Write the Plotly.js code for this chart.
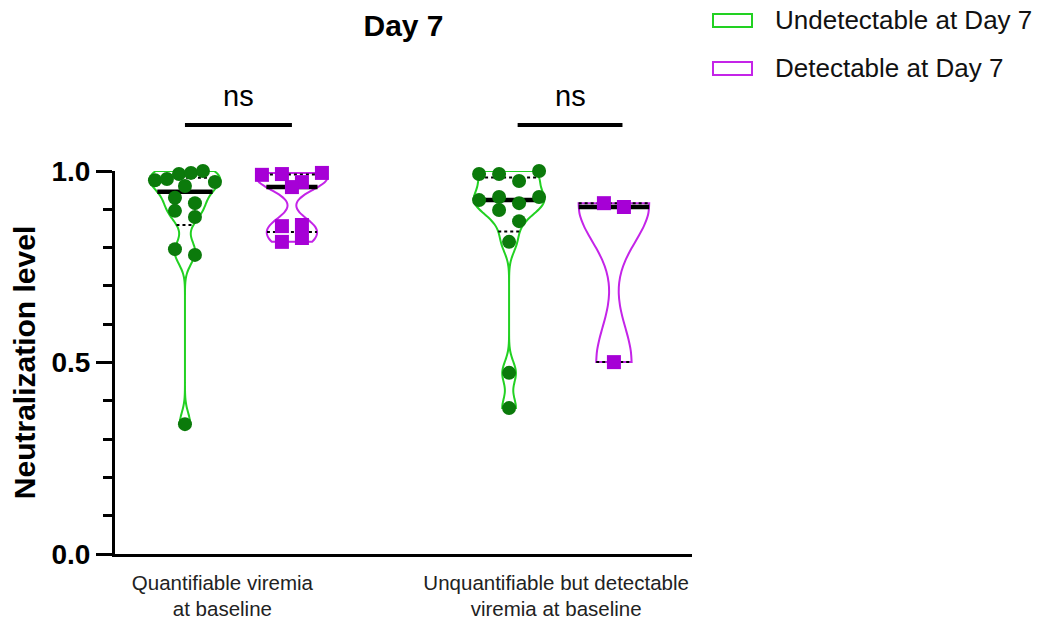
<!DOCTYPE html>
<html>
<head>
<meta charset="utf-8">
<script src="https://cdn.plot.ly/plotly-3.0.1.min.js"></script>
<style>html,body{margin:0;padding:0;background:#fff;}#chart{width:1047px;height:622px;}</style>
</head>
<body>
<div id="chart"></div>
<script>
// ---------------- DATA ----------------
const categories = ['Quantifiable viremia<br>at baseline', 'Unquantifiable but detectable<br>viremia at baseline'];
const seriesNames = ['Undetectable at Day 7', 'Detectable at Day 7'];
// Quantifiable viremia at baseline
const undetectable_quantifiable = [0.976, 0.979, 0.992, 0.995, 1.0, 0.971, 0.961, 0.930, 0.916, 0.896, 0.880, 0.796, 0.781, 0.339];
const detectable_quantifiable = [0.990, 0.992, 0.971, 0.995, 0.958, 0.856, 0.859, 0.815, 0.825];
// Unquantifiable but detectable viremia at baseline
const undetectable_unquantifiable = [0.992, 0.992, 0.974, 1.0, 0.924, 0.932, 0.916, 0.932, 0.898, 0.869, 0.815, 0.473, 0.381];
const detectable_unquantifiable = [0.916, 0.906, 0.501];
const yTickVals = [0, 0.5, 1.0];
const yTickText = ['0.0', '0.5', '1.0'];
const significance = ['ns', 'ns'];

// ---------------- LAYOUT CONSTANTS ----------------
const W = 1047, H = 622;
const M = {l: 115, r: 355, t: 171, b: 68};
const plotW = W - M.l - M.r, plotH = H - M.t - M.b;
const xRange = [-0.654, 4.74];
const yRange = [0, 1];
const pxPerX = plotW / (xRange[1] - xRange[0]);
const pxPerY = plotH / (yRange[1] - yRange[0]);
const violinPos = [0, 1, 3.03, 4.01];
const tickPos = [0.35, 3.47];
const bracketShift = [0, 0.08];
const violinWidth = 0.66;
const bandwidths = [0.03, 0.026, 0.03, 0.095];
const lineColors = ['#22d122', '#c424e8'];
const pointColors = ['#0b7a0b', '#a600d6'];
const symbols = ['circle', 'square'];
const FONT = 'Arial, "Liberation Sans", sans-serif';

const groups = [
  {vals: undetectable_quantifiable, s: 0},
  {vals: detectable_quantifiable, s: 1},
  {vals: undetectable_unquantifiable, s: 0},
  {vals: detectable_unquantifiable, s: 1}
];

function gaussKDE(vals, bw) {
  const f = 1 / (vals.length * bw);
  return x => {
    let s = 0;
    for (const v of vals) { const u = (x - v) / bw; s += Math.exp(-0.5 * u * u) / Math.sqrt(2 * Math.PI); }
    return f * s;
  };
}
// quartiles with the (n+1)p rule
function quantile(vals, p) {
  const a = vals.slice().sort((x, y) => x - y);
  let h = (a.length + 1) * p;
  h = Math.min(Math.max(h, 1), a.length) - 1;
  const lo = Math.floor(h), hi = Math.ceil(h);
  return a[lo] + (a[hi] - a[lo]) * (h - lo);
}
// row-binned scatter: points close in value share a row, spread symmetrically
function binnedOffsets(vals, binH, maxSpread, maxStep) {
  const idx = vals.map((v, i) => i).sort((a, b) => vals[b] - vals[a]);
  const out = new Array(vals.length).fill(0);
  let i = 0;
  while (i < idx.length) {
    const top = vals[idx[i]];
    const row = [];
    while (i < idx.length && top - vals[idx[i]] < binH) { row.push(idx[i]); i++; }
    row.sort((a, b) => a - b);
    const n = row.length;
    const step = n > 1 ? Math.min(maxStep, maxSpread / (n - 1)) : 0;
    row.forEach((j, r) => { out[j] = (r - (n - 1) / 2) * step / pxPerX; });
  }
  return out;
}

const traces = [];
const lineTraces = [];
const pointTraces = [];
groups.forEach((g, k) => {
  const c = violinPos[k];
  traces.push({
    type: 'violin', y: g.vals, x0: c, width: violinWidth,
    bandwidth: bandwidths[k], spanmode: 'hard', scalemode: 'width',
    points: false, box: {visible: false}, meanline: {visible: false},
    line: {color: lineColors[g.s], width: 2}, fillcolor: 'rgba(0,0,0,0)',
    name: seriesNames[g.s], showlegend: false, hoverinfo: 'skip'
  });
  const kde = gaussKDE(g.vals, bandwidths[k]);
  const mn = Math.min(...g.vals), mx = Math.max(...g.vals);
  let maxK = 0;
  for (let i = 0; i <= 1000; i++) maxK = Math.max(maxK, kde(mn + (mx - mn) * i / 1000));
  const half = y => kde(y) / maxK * violinWidth / 2;
  [[0.25, 'dot', 2], [0.75, 'dot', 2], [0.5, 'solid', 4.5]].forEach(([p, dash, w]) => {
    const q = quantile(g.vals, p);
    const hw = half(q);
    lineTraces.push({
      type: 'scatter', mode: 'lines', x: [c - hw, c + hw], y: [q, q],
      line: {color: '#000', width: w, dash: dash}, showlegend: false, hoverinfo: 'skip'
    });
  });
  const offs = binnedOffsets(g.vals, 0.03, 60, 20);
  pointTraces.push({
    type: 'scatter', mode: 'markers', x: offs.map(o => c + o), y: g.vals,
    marker: {color: pointColors[g.s], size: 14, symbol: symbols[g.s], line: {width: 0}},
    showlegend: false, cliponaxis: false, hoverinfo: 'skip'
  });
});

const px2x = p => (p - M.l) / plotW;
const py2y = p => (H - M.b - p) / plotH;
const d2x = x => (x - xRange[0]) / (xRange[1] - xRange[0]);
const d2y = y => (y - yRange[0]) / (yRange[1] - yRange[0]);

const shapes = [];
const annotations = [];
// significance brackets
[[0, 1], [2, 3]].forEach(([a, b], i) => {
  const sh = bracketShift[i];
  shapes.push({type: 'line', xref: 'paper', yref: 'paper', x0: d2x(violinPos[a] + sh), x1: d2x(violinPos[b] + sh),
    y0: d2y(1.12), y1: d2y(1.12), line: {color: '#000', width: 4}});
  annotations.push({xref: 'paper', yref: 'paper', x: d2x((violinPos[a] + violinPos[b]) / 2 + sh), y: d2y(1.195),
    xanchor: 'center', yanchor: 'middle',
    text: significance[i], showarrow: false, font: {family: FONT, size: 29, color: '#000'}});
});
// legend (drawn manually to reproduce wide outline boxes)
[[14, 27, 20], [62, 75, 68]].forEach(([y0, y1, ym], s) => {
  shapes.push({type: 'rect', xref: 'paper', yref: 'paper', x0: px2x(713), x1: px2x(752), y0: py2y(y1), y1: py2y(y0),
    line: {color: lineColors[s], width: 2}, fillcolor: 'rgba(0,0,0,0)'});
  annotations.push({xref: 'paper', yref: 'paper', x: px2x(773), y: py2y(ym), xanchor: 'left', yanchor: 'middle',
    text: seriesNames[s], showarrow: false, font: {family: FONT, size: 26, color: '#111'}});
});

const layout = {
  width: W, height: H, margin: M, paper_bgcolor: '#fff', plot_bgcolor: '#fff',
  showlegend: false,
  font: {family: FONT, color: '#000'},
  title: {text: '<b>Day 7</b>', font: {family: FONT, size: 30, color: '#000'}, xref: 'paper', x: 0.5,
    yref: 'container', y: 1 - 25 / H, yanchor: 'middle'},
  xaxis: {range: xRange, showgrid: false, zeroline: false, showline: true, linecolor: '#000', linewidth: 3,
    ticks: '', tickvals: tickPos, ticktext: categories, tickfont: {family: FONT, size: 20.5, color: '#222'},
    ticklabelstandoff: 8, fixedrange: true},
  yaxis: {range: yRange, showgrid: false, zeroline: false, showline: true, linecolor: '#000', linewidth: 3,
    ticks: 'outside', ticklen: 16, tickwidth: 3, tickcolor: '#000', tickvals: yTickVals, ticktext: yTickText,
    tickfont: {family: FONT, size: 28, color: '#000', weight: 'bold'},
    minor: {dtick: 0.1, ticks: 'outside', ticklen: 9, tickwidth: 3, tickcolor: '#000'},
    title: {text: '<b>Neutralization level</b>', font: {family: FONT, size: 30, color: '#000'}, standoff: 7},
    fixedrange: true},
  shapes: shapes, annotations: annotations
};

Plotly.newPlot('chart', traces.concat(lineTraces, pointTraces), layout, {displayModeBar: false, staticPlot: true});
</script>
</body>
</html>
